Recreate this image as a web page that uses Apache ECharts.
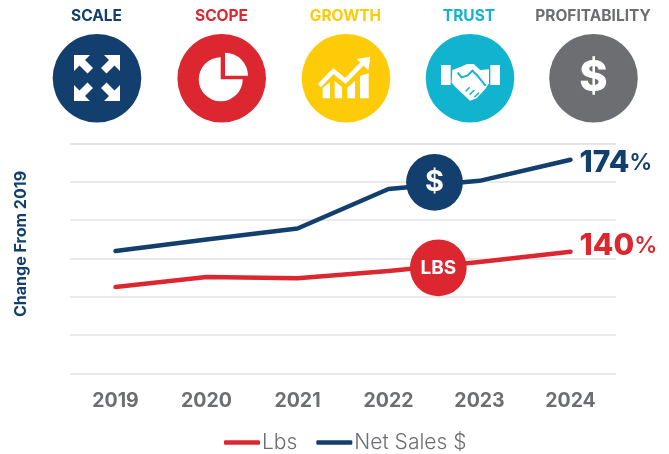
<!DOCTYPE html>
<html>
<head>
<meta charset="utf-8">
<style>html,body{margin:0;padding:0;background:#fff}#c{width:669px;height:454px}</style>
<script src="https://cdn.jsdelivr.net/npm/echarts@6/dist/echarts.min.js"></script>
</head>
<body>
<div id="c"></div>
<script>
const years = ['2019','2020','2021','2022','2023','2024'];
const lbs = [127, 130.7, 130.2, 132.9, 136.2, 140];
const netSales = [140.3, 144.5, 148.6, 163.2, 166.2, 174];
const pillars = ['SCALE','SCOPE','GROWTH','TRUST','PROFITABILITY'];
const pillarColors = ['#123f6d','#dc2730','#fdcb08','#11b3cf','#6d6e71'];
const NAVY = '#123f6d', RED = '#dc2730', GREY = '#6d6e71', F = 'Inter, "Noto Sans", sans-serif';
const centers = [97, 221.7, 346, 470, 593.5];
const CY = 78.3, R = 44.3;
const labelX = [96.5, 221.5, 345.5, 469, 593];

const g = [];
pillars.forEach((p, i) => {
  g.push({type:'text', x:labelX[i], y:16, style:{text:p, x:0, y:0, fill:pillarColors[i], font:'700 15.5px '+F, align:'center', verticalAlign:'middle'}});
  g.push({type:'circle', shape:{cx:centers[i], cy:CY, r:R}, style:{fill:pillarColors[i]}});
});
// scale arrows
const arrow = [[0,0],[16,0],[11,5],[19,13],[13.5,18.5],[5.5,10.5],[0,16]];
[[74,55,1,1],[120,55,-1,1],[74,101,1,-1],[120,101,-1,-1]].forEach(a => {
  g.push({type:'polygon', x:a[0], y:a[1], scaleX:a[2], scaleY:a[3], shape:{points:arrow}, style:{fill:'#fff'}});
});
// pie
g.push({type:'sector', shape:{cx:220.7, cy:79.3, r:22, r0:0, startAngle:0, endAngle:Math.PI*1.5, clockwise:true}, style:{fill:'#fff'}});
g.push({type:'sector', shape:{cx:225, cy:75.7, r:23, r0:0, startAngle:-Math.PI/2, endAngle:0, clockwise:true}, style:{fill:'#fff'}});
// growth
const gx = (x) => 310 + x/3, gy = (y) => 45 + y/3;
const gp = pts => pts.map(p => [gx(p[0]), gy(p[1])]);
[[[38,128],[60,112],[60,160],[38,160]],
 [[74,108],[96,126],[96,160],[74,160]],
 [[112,128],[135,108],[135,160],[112,160]],
 [[150,92],[176,85],[176,160],[150,160]]].forEach(b => g.push({type:'polygon', shape:{points:gp(b)}, style:{fill:'#fff'}}));
g.push({type:'polyline', shape:{points:gp([[28,122],[70,78],[106,108],[160,52]])}, style:{stroke:'#fff', lineWidth:4.5, fill:null}});
g.push({type:'polygon', shape:{points:gp([[140,42],[181,35],[175,76]])}, style:{fill:'#fff'}});
// handshake
const hx = x => 435 + x/3, hy = y => 50 + y/3;
const hp = pts => pts.map(p => [hx(p[0]), hy(p[1])]);
g.push({type:'polygon', shape:{points:hp([[18,45],[47,45],[47,105],[18,105]])}, style:{fill:'#fff'}});
g.push({type:'polygon', shape:{points:hp([[166,45],[195,45],[195,105],[166,105]])}, style:{fill:'#fff'}});
g.push({type:'polygon', shape:{points:hp([[52,60],[78,50],[96,42],[116,42],[136,60],[162,58],[162,100],[150,118],[125,145],[105,152],[62,112],[50,98]])}, style:{fill:'#fff'}});
g.push({type:'polyline', shape:{points:hp([[68,68],[80,82],[98,76],[112,62],[128,78],[152,108]])}, style:{stroke:'#11b3cf', lineWidth:2, fill:null}});
[[[92,124],[104,112]],[[104,134],[118,120]],[[118,142],[132,128]]].forEach(l => g.push({type:'polyline', shape:{points:hp(l)}, style:{stroke:'#11b3cf', lineWidth:1.5, fill:null}}));
// profit $
g.push({type:'text', x:593.5, y:78.5, style:{text:'$', x:0, y:0, fill:'#fff', font:'800 43px '+F, align:'center', verticalAlign:'middle'}});
// bubbles on the lines
g.push({type:'circle', z:20, shape:{cx:434.5, cy:182.3, r:28.4}, style:{fill:NAVY}});
g.push({type:'text', z:21, x:434.5, y:182.5, style:{text:'$', x:0, y:0, fill:'#fff', font:'700 29px '+F, align:'center', verticalAlign:'middle'}});
g.push({type:'circle', z:20, shape:{cx:438.3, cy:267.8, r:28.4}, style:{fill:RED}});
g.push({type:'text', z:21, x:438.3, y:268, style:{text:'LBS', x:0, y:0, fill:'#fff', font:'700 19px '+F, align:'center', verticalAlign:'middle'}});

function endRich(color){ return {
  n:{fontFamily:F, fontWeight:800, fontSize:30, color:color},
  p:{fontFamily:F, fontWeight:600, fontSize:23, color:color}
};}
const chart = echarts.init(document.getElementById('c'), null, {renderer:'canvas'});
chart.setOption({
  animation:false,
  backgroundColor:'#fff',
  grid:{left:70, right:53, top:143.5, height:230, containLabel:false},
  xAxis:{type:'category', data:years, boundaryGap:true,
    axisLine:{show:false}, axisTick:{show:false},
    axisLabel:{color:GREY, fontFamily:F, fontWeight:700, fontSize:19.5, margin:18}},
  yAxis:{type:'value', min:95, max:180, interval:85/6,
    name:'Change From 2019', nameLocation:'middle', nameGap:41, nameRotate:90,
    nameTextStyle:{color:NAVY, fontFamily:F, fontWeight:700, fontSize:16, padding:[0,0,0,29]},
    axisLine:{show:false}, axisTick:{show:false}, axisLabel:{show:false},
    splitLine:{lineStyle:{color:'#e3e3e3', width:1.5}}},
  legend:{data:['Lbs','Net Sales $'], left:219, top:427, itemWidth:36, itemHeight:4.5, itemGap:19,
    icon:'roundRect', textStyle:{color:GREY, fontFamily:F, fontWeight:300, fontSize:21, padding:[0,0,0,-3]}},
  graphic:g,
  series:[
    {name:'Lbs', type:'line', data:lbs, symbol:'none', smooth:false, z:5,
     lineStyle:{color:RED, width:4.5, cap:'round', join:'round'}, itemStyle:{color:RED},
     endLabel:{show:true, distance:9, offset:[0,-6], formatter:p => '{n|'+p.value+'}{p|%}', rich:endRich(RED)}},
    {name:'Net Sales $', type:'line', data:netSales, symbol:'none', smooth:false, z:5,
     lineStyle:{color:NAVY, width:4.5, cap:'round', join:'round'}, itemStyle:{color:NAVY},
     endLabel:{show:true, distance:9, offset:[0,3], formatter:p => '{n|'+p.value+'}{p|%}', rich:endRich(NAVY)}}
  ]
});
</script>
</body>
</html>
